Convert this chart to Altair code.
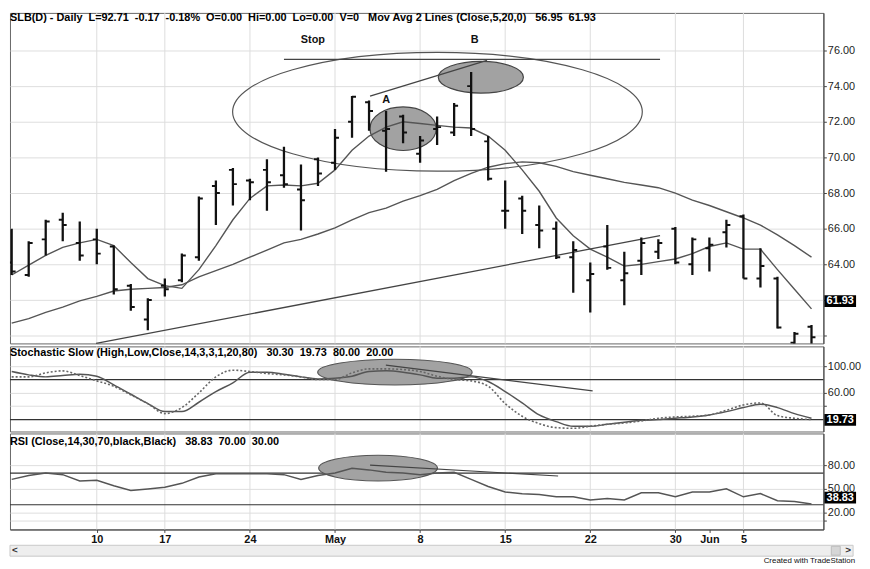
import altair as alt
import pandas as pd

# ---------------- data ----------------
dates = ["2006-04-03", "2006-04-04", "2006-04-05", "2006-04-06", "2006-04-07",
         "2006-04-10", "2006-04-11", "2006-04-12", "2006-04-13", "2006-04-17",
         "2006-04-18", "2006-04-19", "2006-04-20", "2006-04-21", "2006-04-24",
         "2006-04-25", "2006-04-26", "2006-04-27", "2006-04-28", "2006-05-01",
         "2006-05-02", "2006-05-03", "2006-05-04", "2006-05-05", "2006-05-08",
         "2006-05-09", "2006-05-10", "2006-05-11", "2006-05-12", "2006-05-15",
         "2006-05-16", "2006-05-17", "2006-05-18", "2006-05-19", "2006-05-22",
         "2006-05-23", "2006-05-24", "2006-05-25", "2006-05-26", "2006-05-30",
         "2006-05-31", "2006-06-01", "2006-06-02", "2006-06-05", "2006-06-06",
         "2006-06-07", "2006-06-08", "2006-06-09"]

opens = [64.1, 63.4, 65.4, 66.5, 65.2, 65.4, 65.0, 62.8, 60.9, 62.8,
         63.1, 64.4, 68.4, 69.3, 68.7, 69.3, 69.0, 68.2, 69.9, 69.7,
         72.0, 73.1, 71.5, 72.3, 70.2, 71.6, 71.4, 74.0, 70.9, 67.0,
         67.7, 66.2, 66.0, 64.4, 63.1, 65.0, 63.1, 64.2, 64.7, 66.0,
         64.0, 64.9, 65.8, 66.7, 63.2, 63.2, 59.6, 60.5]
highs = [66.0, 65.3, 66.5, 66.9, 66.4, 66.0, 65.05, 62.9, 62.1, 63.2,
         64.6, 67.8, 68.7, 69.4, 68.8, 69.9, 70.6, 69.6, 70.0, 71.6,
         73.45, 73.2, 72.6, 72.4, 71.2, 72.3, 73.05, 74.8, 71.2, 68.7,
         67.85, 67.3, 66.4, 65.3, 64.1, 66.2, 64.7, 65.5, 65.4, 66.1,
         65.5, 65.5, 66.5, 66.8, 64.9, 63.3, 60.2, 60.6]
lows = [63.4, 63.3, 64.5, 65.3, 64.2, 64.0, 62.3, 61.4, 60.3, 62.2,
        63.0, 64.2, 66.2, 67.3, 67.6, 67.0, 68.3, 65.9, 68.4, 69.3,
        71.1, 71.5, 69.2, 70.8, 69.7, 70.7, 71.2, 71.2, 68.7, 66.0,
        65.7, 64.9, 64.3, 62.4, 61.3, 63.7, 61.7, 63.4, 64.3, 64.0,
        63.4, 63.6, 64.95, 63.2, 62.7, 60.4, 59.0, 59.0]
closes = [63.6, 65.2, 66.4, 66.2, 64.5, 64.6, 62.6, 61.6, 62.0, 62.6,
          64.5, 67.7, 68.0, 68.5, 68.6, 68.6, 68.5, 67.6, 69.1, 71.1,
          73.4, 72.6, 71.6, 71.4, 70.95, 71.7, 72.9, 71.6, 68.8, 67.0,
          67.0, 65.9, 64.4, 64.8, 63.45, 63.8, 63.5, 65.2, 65.2, 64.1,
          65.4, 65.1, 66.2, 63.2, 63.9, 60.45, 60.1, 59.9]
ma5 = [63.4, 63.95, 64.5, 64.95, 65.2, 65.4, 65.05, 64.1, 63.2, 62.8,
       62.65, 63.7, 65.05, 66.5, 67.7, 68.4, 68.45, 68.4, 68.55, 69.3,
       70.4, 71.2, 71.7, 72.0, 71.9, 71.8, 71.7, 71.65, 71.2, 70.4,
       69.3, 68.1, 66.6, 65.6, 64.85, 64.4, 63.9, 64.0, 64.15, 64.3,
       64.6, 65.0, 65.2, 64.85, 64.85, 63.7, 62.6, 61.5]
ma20 = [60.7, 60.95, 61.3, 61.6, 61.95, 62.2, 62.5, 62.6, 62.65, 62.7,
        62.85, 63.3, 63.65, 64.0, 64.4, 64.8, 65.2, 65.4, 65.7, 66.05,
        66.5, 66.9, 67.15, 67.55, 67.85, 68.2, 68.7, 69.1, 69.45, 69.65,
        69.75, 69.7, 69.5, 69.2, 69.0, 68.8, 68.6, 68.45, 68.3, 68.0,
        67.6, 67.3, 66.95, 66.6, 66.2, 65.65, 65.05, 64.4]
stoch_k = [92, 87, 84, 86, 88, 85, 72, 58, 44, 32,
           32, 46, 62, 75, 91, 91, 88, 84, 81, 82,
           85, 92, 93, 91, 87, 82, 82, 84, 77, 62,
           45, 27, 17, 10, 10, 13, 16, 19, 20, 22,
           24, 27, 32, 38, 43, 38, 29, 22]
stoch_d = [84, 84, 90, 93, 86, 78, 70, 57, 44, 29,
           38, 60, 84, 94, 92, 89, 87, 84, 80, 80,
           90, 96, 96, 95, 92, 85, 80, 78, 70, 44,
           25, 14, 8, 7, 10, 13, 15, 18, 22, 24,
           25, 27, 34, 42, 45, 26, 22, 20]
rsi = [62, 67, 70, 68, 60, 61, 54, 48, 50, 52,
       57, 65, 69, 69, 69, 69, 68, 62, 67, 70,
       76, 74, 71, 70, 68, 70, 71, 62, 53, 46,
       44, 43, 40, 40, 36, 38, 36, 45, 45, 40,
       46, 46, 50, 40, 44, 35, 34, 31]

tick_dates = ["2006-04-10", "2006-04-17", "2006-04-24", "2006-05-01", "2006-05-08",
              "2006-05-15", "2006-05-22", "2006-05-30", "2006-06-01", "2006-06-05"]
tick_labels = ["10", "17", "24", "May", "8", "15", "22", "30", "Jun", "5"]
grid_dates = [d for d in tick_dates if d != "2006-06-01"]

price_ticks = [60, 62, 64, 66, 68, 70, 72, 74, 76]
price_labelled = [64, 66, 68, 70, 72, 74, 76]
stoch_ticks = [100, 60, 40]
stoch_labelled = [100, 60]
rsi_ticks = [80, 50, 20, 10]
rsi_labelled = [80, 50, 20]
stoch_levels = [80, 20]
rsi_levels = [70, 30]

# annotations (bar index, value)
price_segments = {"x": [4.96, 16.0, 21.06], "x2": [38.1, 38.1, 27.93],
                  "y": [59.56, 75.5, 73.44], "y2": [65.61, 75.5, 75.44]}
price_labels = {"i": [17.7, 22.0, 27.2], "p": [76.61, 73.22, 76.56], "t": ["Stop", "A", "B"]}
big_ellipse = {"i": [25.02], "p": [72.56]}
ellipse_a = {"i": [23.0], "p": [71.61]}
ellipse_b = {"i": [27.57], "p": [74.5]}
stoch_ellipse = {"i": [22.52], "v": [91.1]}
stoch_segment = {"x": [21.99], "x2": [34.14], "y": [101.5], "y2": [63.0]}
rsi_ellipse = {"i": [21.53], "v": [76.25]}
rsi_segment = {"x": [21.06], "x2": [32.11], "y": [80.0], "y2": [66.25]}

last_price = [61.93]
last_stoch = [19.73]
last_rsi = [38.83]

NB = "\u00a0"
price_title = (f"SLB(D) - Daily{NB*2}L=92.71{NB*2}-0.17{NB*2}-0.18%{NB*2}O=0.00{NB*2}"
               f"Hi=0.00{NB*2}Lo=0.00{NB*2}V=0{NB*3}Mov Avg 2 Lines (Close,5,20,0){NB*3}56.95{NB*2}61.93")
stoch_title = f"Stochastic Slow (High,Low,Close,14,3,3,1,20,80){NB*3}30.30{NB*2}19.73{NB*2}80.00{NB*2}20.00"
rsi_title = f"RSI (Close,14,30,70,black,Black){NB*3}38.83{NB*2}70.00{NB*2}30.00"

# ---------------- helpers ----------------
FONT = "Liberation Sans"
W = 822
H_P, H_S, H_R = 334, 86, 97
XS = alt.Scale(domain=[-0.1, 47.7], nice=False, zero=False)

idx = list(range(len(dates)))
tick_idx = [dates.index(d) for d in tick_dates]
grid_idx = [dates.index(d) for d in grid_dates]
label_map = "{" + ",".join(f"'{i}':'{t}'" for i, t in zip(tick_idx, tick_labels)) + "}"
XAX = alt.Axis(values=tick_idx, labelExpr=f"{label_map}[datum.value]", grid=False,
               tickSize=3, labelPadding=1, labelFontWeight="bold", labelFontSize=11,
               labelColor="#111", orient="bottom")


def ellipse_path(r):
    k = 0.5523
    return (f"M-1,0C-1,{-k*r:.4f},{-k:.4f},{-r:.4f},0,{-r:.4f}"
            f"C{k:.4f},{-r:.4f},1,{-k*r:.4f},1,0"
            f"C1,{k*r:.4f},{k:.4f},{r:.4f},0,{r:.4f}"
            f"C{-k:.4f},{r:.4f},-1,{k*r:.4f},-1,0Z")


RECT = "M-1,-0.37L1,-0.37L1,0.37L-1,0.37Z"
BOX_X = W + 17


def encoders(ydomain, yticks, labelled, xaxis=None):
    YS = alt.Scale(domain=ydomain, nice=False, zero=False)
    YAX = alt.Axis(orient="right", values=yticks,
                   labelExpr=f"indexof({labelled}, datum.value) >= 0 ? format(datum.value, '.2f') : ''",
                   grid=True, tickSize=3, labelPadding=1)

    def X(f):
        return alt.X(f"{f}:Q", scale=XS, axis=xaxis, title=None)

    def Y(f):
        return alt.Y(f"{f}:Q", scale=YS, axis=YAX, title=None)
    return X, Y


def vgrid(X, Y, lo, hi):
    df = pd.DataFrame({"i": grid_idx, "lo": [lo] * len(grid_idx), "hi": [hi] * len(grid_idx)})
    return alt.Chart(df).mark_rule(color="#dddddd", strokeWidth=1).encode(x=X("i"), y=Y("lo"), y2="hi:Q")


def title_text(t, y):
    return alt.Chart(pd.DataFrame({"t": [t]})).mark_text(
        font=FONT, fontSize=11, fontWeight="bold", color="#000", align="left", baseline="middle"
    ).encode(x=alt.value(0), y=alt.value(y), text="t:N")


def last_box(vals, Y):
    df = pd.DataFrame({"v": vals, "t": [f"{v:.2f}" for v in vals]})
    box = alt.Chart(df).mark_point(shape=RECT, size=32 ** 2, filled=True, color="#000", opacity=1).encode(
        x=alt.value(BOX_X), y=Y("v"))
    txt = alt.Chart(df).mark_text(font=FONT, fontSize=11, fontWeight="bold", color="#fff").encode(
        x=alt.value(BOX_X), y=Y("v"), text="t:N")
    return box, txt


def ellipse(d, X, Y, yf, r, width, filled, stroke="#555"):
    kw = dict(shape=ellipse_path(r), size=width ** 2, stroke=stroke, strokeWidth=1.2, opacity=1)
    if filled:
        kw.update(filled=True, fill="#a2a2a2", fillOpacity=1)
    else:
        kw.update(filled=False)
    return alt.Chart(pd.DataFrame(d)).mark_point(**kw).encode(x=X("i"), y=Y(yf))


# ---------------- price panel ----------------
Xp, Yp = encoders([59.56, 78.11], price_ticks, price_labelled)
pdf = pd.DataFrame({"i": idx, "open": opens, "high": highs, "low": lows,
                    "close": closes, "ma5": ma5, "ma20": ma20})
base = alt.Chart(pdf)

big_ell = ellipse(big_ellipse, Xp, Yp, "p", 0.29, 414, False)
ell_a = ellipse(ellipse_a, Xp, Yp, "p", 0.657, 67, True, "#444")
ell_b = ellipse(ellipse_b, Xp, Yp, "p", 0.372, 86, True, "#444")

ma5_line = base.mark_line(color="#555", strokeWidth=1.4, clip=True).encode(x=Xp("i"), y=Yp("ma5"))
ma20_line = base.mark_line(color="#555", strokeWidth=1.4, clip=True).encode(x=Xp("i"), y=Yp("ma20"))
segs = alt.Chart(pd.DataFrame(price_segments)).mark_rule(color="#444", strokeWidth=1.3).encode(
    x=Xp("x"), x2="x2:Q", y=Yp("y"), y2="y2:Q")

hl = base.mark_rule(color="#111", strokeWidth=2.3, clip=True).encode(x=Xp("i"), y=Yp("high"), y2="low:Q")
op = base.mark_rule(color="#111", strokeWidth=2, xOffset=-4, x2Offset=0, clip=True).encode(
    x=Xp("i"), x2="i:Q", y=Yp("open"))
cl = base.mark_rule(color="#111", strokeWidth=2, xOffset=0, x2Offset=4, clip=True).encode(
    x=Xp("i"), x2="i:Q", y=Yp("close"))

lbls = alt.Chart(pd.DataFrame(price_labels)).mark_text(
    font=FONT, fontSize=11, fontWeight="bold", color="#111").encode(x=Xp("i"), y=Yp("p"), text="t:N")
pbox, pboxt = last_box(last_price, Yp)

price = alt.layer(vgrid(Xp, Yp, 59.56, 78.11), big_ell, ell_a, ell_b, ma20_line, ma5_line, segs,
                  hl, op, cl, lbls, title_text(price_title, 5), pbox, pboxt).properties(width=W, height=H_P)

# ---------------- stochastic panel ----------------
Xs, Ys = encoders([2.22, 129.63], stoch_ticks, stoch_labelled)
sdf = pd.DataFrame({"i": idx, "k": stoch_k, "d": stoch_d})
slev = alt.Chart(pd.DataFrame({"v": stoch_levels})).mark_rule(color="#333", strokeWidth=1.2).encode(y=Ys("v"))
sell = ellipse(stoch_ellipse, Xs, Ys, "v", 0.167, 156, True)
kline = alt.Chart(sdf).mark_line(color="#555", strokeWidth=1.5, interpolate="monotone").encode(x=Xs("i"), y=Ys("k"))
dline = alt.Chart(sdf).mark_line(color="#666", strokeWidth=1.6, strokeDash=[2, 2], interpolate="monotone").encode(
    x=Xs("i"), y=Ys("d"))
sseg = alt.Chart(pd.DataFrame(stoch_segment)).mark_rule(color="#444", strokeWidth=1.2).encode(
    x=Xs("x"), x2="x2:Q", y=Ys("y"), y2="y2:Q")
sbox, sboxt = last_box(last_stoch, Ys)
stoch = alt.layer(vgrid(Xs, Ys, 2.22, 129.63), slev, sell, kline, dline, sseg,
                  title_text(stoch_title, 7), sbox, sboxt).properties(width=W, height=H_S)

# ---------------- RSI panel ----------------
Xr, Yr = encoders([-1.25, 120], rsi_ticks, rsi_labelled, xaxis=XAX)
rdf = pd.DataFrame({"i": idx, "r": rsi})
rlev = alt.Chart(pd.DataFrame({"v": rsi_levels})).mark_rule(color="#333", strokeWidth=1.2).encode(y=Yr("v"))
rell = ellipse(rsi_ellipse, Xr, Yr, "v", 0.217, 120, True)
rline = alt.Chart(rdf).mark_line(color="#555", strokeWidth=1.5).encode(x=Xr("i"), y=Yr("r"))
rseg = alt.Chart(pd.DataFrame(rsi_segment)).mark_rule(color="#444", strokeWidth=1.2).encode(
    x=Xr("x"), x2="x2:Q", y=Yr("y"), y2="y2:Q")
rbox, rboxt = last_box(last_rsi, Yr)

# scrollbar strip and footer text (below the time axis)
scroll = alt.Chart(pd.DataFrame({"a": [0]})).mark_rect(fill="#eeeeee", stroke="#c8c8c8").encode(
    x=alt.value(0), x2=alt.value(W + 30), y=alt.value(H_R + 16), y2=alt.value(H_R + 27))
thumb = alt.Chart(pd.DataFrame({"a": [0]})).mark_rect(fill="#d6d6d6", stroke="#bbbbbb").encode(
    x=alt.value(W + 8), x2=alt.value(W + 17), y=alt.value(H_R + 17), y2=alt.value(H_R + 26))
larrow = alt.Chart(pd.DataFrame({"t": ["<"]})).mark_text(font=FONT, fontSize=10, fontWeight="bold", color="#333").encode(
    x=alt.value(5), y=alt.value(H_R + 21), text="t:N")
rarrow = alt.Chart(pd.DataFrame({"t": [">"]})).mark_text(font=FONT, fontSize=10, fontWeight="bold", color="#333").encode(
    x=alt.value(W + 25), y=alt.value(H_R + 21), text="t:N")
footer = alt.Chart(pd.DataFrame({"t": ["Created with TradeStation"]})).mark_text(
    font=FONT, fontSize=8, color="#111", align="right", baseline="middle").encode(
    x=alt.value(W + 32), y=alt.value(H_R + 32), text="t:N")

rsi_panel = alt.layer(vgrid(Xr, Yr, -1.25, 120), rlev, rell, rline, rseg, title_text(rsi_title, 9),
                      rbox, rboxt, scroll, thumb, larrow, rarrow, footer).properties(width=W, height=H_R)

chart = alt.vconcat(price, stoch, rsi_panel, spacing=0,
                    padding={"left": 0, "top": 0, "right": 0, "bottom": 0},
                    background="white").configure_view(
    stroke="#666", strokeWidth=1
).configure_axis(
    labelFont=FONT, labelFontSize=11, labelColor="#222", tickColor="#444",
    domainColor="#444", gridColor="#dedede", titleFont=FONT
)

chart.save("out.html", embed_options={"renderer": "svg", "actions": False})
